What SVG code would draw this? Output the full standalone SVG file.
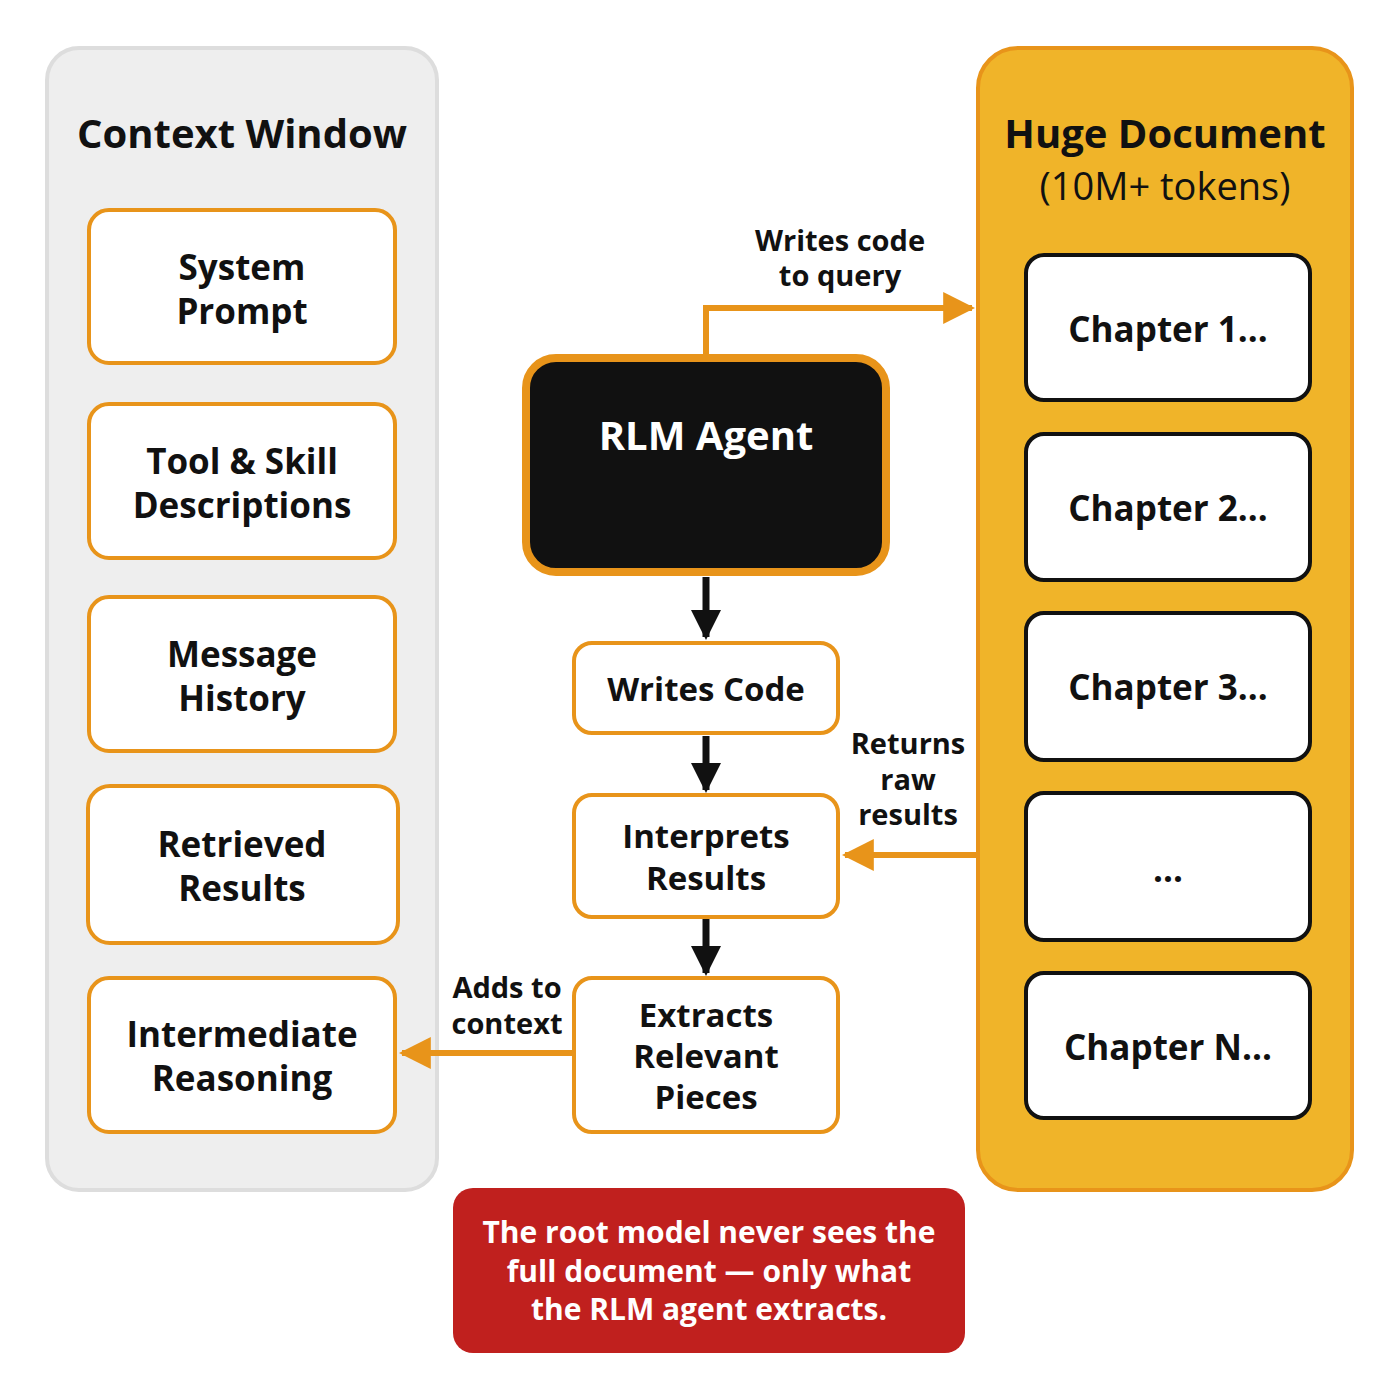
<svg xmlns="http://www.w3.org/2000/svg" width="1400" height="1400" viewBox="0 0 1400 1400">
<defs>
<style>
text{font-family:"Open Sans","Noto Sans","DejaVu Sans",sans-serif;font-weight:bold;text-anchor:middle;fill:#111}
.t{font-size:35px}
.m{font-size:33px}
.h{font-size:40px}
.l{font-size:29px}
.box{fill:#fff;stroke:#e8941a;stroke-width:4}
.ch{fill:#fff;stroke:#111;stroke-width:4}
.oc{fill:none;stroke:#e8941a;stroke-width:6}
.bc{fill:none;stroke:#111;stroke-width:7}
</style>
<marker id="ao" viewBox="0 0 10 10" refX="9" refY="5" markerWidth="32" markerHeight="32" orient="auto" markerUnits="userSpaceOnUse"><path d="M0,0L10,5L0,10z" fill="#e8941a"/></marker>
<marker id="ab" viewBox="0 0 10 10" refX="9" refY="5" markerWidth="30" markerHeight="30" orient="auto" markerUnits="userSpaceOnUse"><path d="M0,0L10,5L0,10z" fill="#111"/></marker>
</defs>
<rect width="1400" height="1400" fill="#fff"/>
<g id="context-window">
<rect x="47" y="48" width="390" height="1142" rx="32" fill="#eeeeee" stroke="#dddddd" stroke-width="4"/>
<text class="h" x="242" y="148">Context Window</text>
</g>
<g id="system-prompt"><rect class="box" x="89" y="210" width="306" height="153" rx="20"/><text class="t" x="242" y="280">System</text><text class="t" x="242" y="324">Prompt</text></g>
<g id="tool-skill"><rect class="box" x="89" y="404" width="306" height="154" rx="20"/><text class="t" x="242" y="474">Tool &amp; Skill</text><text class="t" x="242" y="518">Descriptions</text></g>
<g id="message-history"><rect class="box" x="89" y="597" width="306" height="154" rx="20"/><text class="t" x="242" y="667">Message</text><text class="t" x="242" y="711">History</text></g>
<g id="retrieved-results"><rect class="box" x="88" y="786" width="310" height="157" rx="22" stroke-width="7"/><text class="t" x="242" y="857">Retrieved</text><text class="t" x="242" y="901">Results</text></g>
<g id="intermediate-reasoning"><rect class="box" x="89" y="978" width="306" height="154" rx="20"/><text class="t" x="242" y="1047">Intermediate</text><text class="t" x="242" y="1091">Reasoning</text></g>
<g id="huge-document">
<rect x="978" y="48" width="374" height="1142" rx="40" fill="#f0b429" stroke="#e8941a" stroke-width="4"/>
<text class="h" x="1165" y="148">Huge Document</text>
<text class="h" x="1165" y="200" style="font-weight:normal;font-size:38px">(10M+ tokens)</text>
</g>
<g id="chapter-1"><rect class="ch" x="1026" y="255" width="284" height="145" rx="18"/><text class="t" x="1168" y="342">Chapter 1...</text></g>
<g id="chapter-2"><rect class="ch" x="1026" y="434" width="284" height="146" rx="18"/><text class="t" x="1168" y="521">Chapter 2...</text></g>
<g id="chapter-3"><rect class="ch" x="1026" y="613" width="284" height="147" rx="18"/><text class="t" x="1168" y="700">Chapter 3...</text></g>
<g id="chapter-dots"><rect class="ch" x="1026" y="793" width="284" height="147" rx="18"/><text class="t" x="1168" y="882">...</text></g>
<g id="chapter-n"><rect class="ch" x="1026" y="973" width="284" height="145" rx="18"/><text class="t" x="1168" y="1060">Chapter N...</text></g>
<g id="rlm-agent"><rect x="526" y="358" width="360" height="214" rx="30" fill="#111" stroke="#e8941a" stroke-width="8"/><text class="h" x="706" y="450" style="fill:#fff">RLM Agent</text></g>
<g id="writes-code"><rect class="box" x="574" y="643" width="264" height="90" rx="18"/><text class="m" x="706" y="701">Writes Code</text></g>
<g id="interprets-results"><rect class="box" x="574" y="795" width="264" height="122" rx="18"/><text class="m" x="706" y="848">Interprets</text><text class="m" x="706" y="890">Results</text></g>
<g id="extracts"><rect class="box" x="574" y="978" width="264" height="154" rx="18"/><text class="m" x="706" y="1027">Extracts</text><text class="m" x="706" y="1068">Relevant</text><text class="m" x="706" y="1109">Pieces</text></g>
<g id="connectors">
<path class="oc" d="M706,354V308H972" marker-end="url(#ao)"/>
<path class="oc" d="M978,855H845" marker-end="url(#ao)"/>
<path class="oc" d="M574,1053H402" marker-end="url(#ao)"/>
<path class="bc" d="M706,577V637" marker-end="url(#ab)"/>
<path class="bc" d="M706,736V790" marker-end="url(#ab)"/>
<path class="bc" d="M706,919V973" marker-end="url(#ab)"/>
<text class="l" x="840" y="251">Writes code</text><text class="l" x="840" y="286">to query</text>
<text class="l" x="908" y="754">Returns</text><text class="l" x="908" y="790">raw</text><text class="l" x="908" y="825">results</text>
<text class="l" x="507" y="998">Adds to</text><text class="l" x="507" y="1034">context</text>
</g>
<g id="note"><rect x="453" y="1188" width="512" height="165" rx="20" fill="#c0201e"/>
<text class="l" x="709" y="1243" style="fill:#fff;font-size:30px">The root model never sees the</text>
<text class="l" x="709" y="1282" style="fill:#fff;font-size:30px">full document — only what</text>
<text class="l" x="709" y="1320" style="fill:#fff;font-size:30px">the RLM agent extracts.</text></g>
</svg>
